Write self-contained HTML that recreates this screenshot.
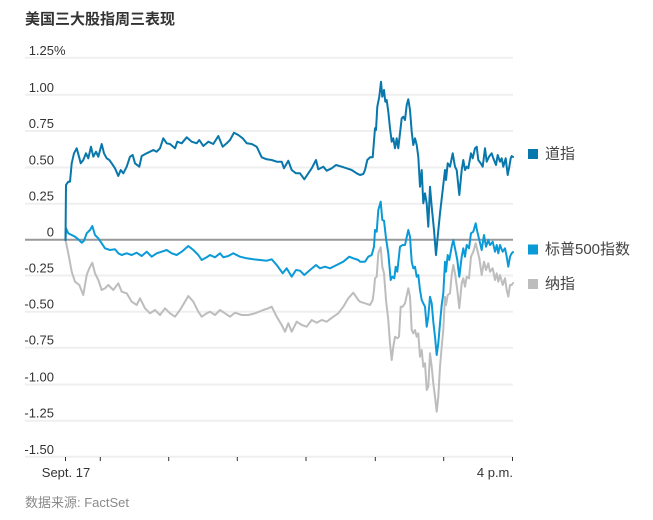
<!DOCTYPE html>
<html>
<head>
<meta charset="utf-8">
<style>
html,body{margin:0;padding:0;background:#fff;}
svg{display:block;}
text{font-family:"Liberation Sans","Noto Sans CJK SC",sans-serif;}
</style>
</head>
<body>
<svg width="653" height="520" viewBox="0 0 653 520" xmlns="http://www.w3.org/2000/svg">
<rect width="653" height="520" fill="#fff"/>
<text x="25" y="24" font-size="15" font-weight="bold" fill="#333">美国三大股指周三表现</text>

<g stroke="#efefef" stroke-width="2">
<line x1="25" x2="513" y1="57.7" y2="57.7"/>
<line x1="25" x2="513" y1="94.7" y2="94.7"/>
<line x1="25" x2="513" y1="131" y2="131"/>
<line x1="25" x2="513" y1="167.5" y2="167.5"/>
<line x1="25" x2="513" y1="203.7" y2="203.7"/>
<line x1="25" x2="513" y1="275.5" y2="275.5"/>
<line x1="25" x2="513" y1="311.7" y2="311.7"/>
<line x1="25" x2="513" y1="347.7" y2="347.7"/>
<line x1="25" x2="513" y1="384.5" y2="384.5"/>
<line x1="25" x2="513" y1="420.7" y2="420.7"/>
<line x1="25" x2="513" y1="456.8" y2="456.8"/>
</g>

<g font-size="13" fill="#333" text-anchor="end">
<text x="54" y="55">1.25</text>
<text x="54" y="92">1.00</text>
<text x="54" y="128">0.75</text>
<text x="54" y="164.5">0.50</text>
<text x="54" y="200.7">0.25</text>
<text x="54" y="236.5">0</text>
<text x="54" y="272.5">-0.25</text>
<text x="54" y="308.7">-0.50</text>
<text x="54" y="344.7">-0.75</text>
<text x="54" y="381.5">-1.00</text>
<text x="54" y="417.7">-1.25</text>
<text x="54" y="453.8">-1.50</text>
</g>
<text x="54" y="55" font-size="13" fill="#333">%</text>

<g stroke="#333" stroke-width="1">
<line x1="65.5" x2="65.5" y1="457" y2="461"/>
<line x1="100.3" x2="100.3" y1="457" y2="461"/>
<line x1="168.7" x2="168.7" y1="457" y2="461"/>
<line x1="237.3" x2="237.3" y1="457" y2="461"/>
<line x1="306" x2="306" y1="457" y2="461"/>
<line x1="375.3" x2="375.3" y1="457" y2="461"/>
<line x1="443.7" x2="443.7" y1="457" y2="461"/>
<line x1="512.5" x2="512.5" y1="457" y2="461"/>
</g>
<text x="66" y="477" font-size="13" fill="#333" text-anchor="middle">Sept. 17</text>
<text x="513" y="477" font-size="13" fill="#333" text-anchor="end">4 p.m.</text>

<text x="25" y="507" font-size="13" fill="#8a8a8a">数据来源: FactSet</text>

<line x1="25" x2="513" y1="239.7" y2="239.7" stroke="#999" stroke-width="2"/>

<g fill="none" stroke-width="2" stroke-linejoin="round" stroke-linecap="round">
<polyline stroke="#bdbdbd" points="65.5,240 68.3,253.3 71.7,271.7 75,281.7 79.3,285 83.3,295 86.7,275 89.3,268.3 92.3,262.7 95,273.3 98.3,280 101.7,290 105,288.3 108.3,285 113.3,290 118.3,283.3 121.7,291.7 126.7,293.3 131.7,301.7 136.7,305 140,298.3 145,308.3 150,313.3 155,310 160,315 165,308.3 170,313.3 175,316.7 180,310 184,303.3 188.3,296 193.3,301.7 198.3,311.7 201.7,316.7 206.7,313.3 210,311.7 215,315 220,310 225,313.3 230,316.7 235,312.7 241.7,315 248.3,315 255,313.3 263.3,310 268.3,308.3 271.7,306.7 276.7,316.7 281.7,325 285,331.7 288.3,323.3 291.7,331.7 296.7,321.7 301.7,325 306.7,326.7 311.7,320 316.7,322.7 321.7,320 326.7,321.7 333.3,316.7 338.3,313.3 343.3,306.7 348.3,298.3 353.3,292.7 358.3,300 360,301.7 365,303.3 370,305 372.7,300 374,290 375,278.3 376.7,276.7 378.3,253.3 380.7,247.3 382.3,266.7 384,273.3 386,300 388.3,320 390,343.3 391.7,360 393.3,346.7 395,336.7 397.3,338.3 399,336.7 400.7,306.7 402.7,306.7 405,303.3 408.3,288.3 410,296.7 411.7,330 413.3,333.3 415,330 416.7,336.7 418.3,333.3 420,356.7 421.7,350 423.3,366.7 425,363.3 426.7,390 428.3,386.7 430,353.3 431.7,366.7 433.3,383.3 435,396.7 436.7,411.7 438.3,396.7 440,366.7 441.7,346.7 443.3,330 445,296.7 446,305 447.7,295 450,293.3 451.7,275 453.3,265 455,273.3 457.3,290 459.3,308.3 461.7,283.3 463.3,278.3 465,286.7 466.7,276.7 469,278.3 471,256.7 473.3,251.7 475.7,243.3 477.3,250 479.3,258.3 481.7,275 484,261.7 486,270 488.3,263.3 490,271.7 492.7,268.3 495,280 496.7,273.3 498.3,281.7 500,275 502.7,285 505,278.3 506.7,290 508.3,296.7 510,285 511.7,285 513,283"/>
<polyline stroke="#0b9ad8" points="65.5,240 66,228.3 68.3,233.3 71.7,235 75,236.7 78.3,239.3 81.7,242.7 84,240.7 86.7,233.3 90,230 92.3,226 95,235 98.3,238.3 101.7,243.3 105,248.3 110,250 115,249.3 118.3,253.3 121.7,255 126.7,253.3 131.7,255 136.7,252.7 141.7,256 146.7,251.7 151.7,256.7 156.7,253.3 161.7,251.7 166.7,250 171.7,253.3 176.7,255 181.7,251.7 188.3,246 193.3,250 198.3,255 201.7,260 206.7,257.3 210,255 215,257.3 220,253.3 223.3,257.3 228.3,256 233.3,253.3 240,256.7 246.7,258.3 253.3,259.3 260,260 266.7,260.7 271.7,259.3 276.7,265 282.7,273.3 286.7,268.3 291.7,276.7 296,270 300,270.7 304.3,275 310,270 316,265 320,268.3 325,266.7 330,268.3 336.7,265 343.3,261.7 349.3,256.7 353.3,258.3 358.3,260 360,261.7 365,261.7 368.3,256.7 371.7,255 374,246.7 375,230 376.7,231.7 378.3,210 380.7,201.7 382.3,220 384,220.7 386,238.3 388.3,253.3 390.7,280 392.3,276.7 394.3,278.3 395.7,266.7 397.3,271.7 400,246.7 402.7,245 405,245 408.3,230 410,236.7 411.7,261.7 413.3,268.3 415,266.7 416.7,276.7 418.3,275 420,290 421.7,300 423.3,303.3 425,306.7 426.7,326.7 428.3,316.7 430,296.7 431.7,303.3 433.3,321.7 435,336.7 436.7,355 438.3,343.3 440,323.3 441.7,305 443.3,293.3 445,261.7 446,271.7 447.7,255 449.3,260 451.7,246.7 453.3,240 455,248.3 457.3,260 459.3,276.7 461.7,256.7 463.3,248.3 465,256.7 466.7,245 469,248.3 471,233.3 473.3,231.7 475.7,223.3 477.3,231.7 479.3,240 481.7,250 484,235 486,246.7 488.3,240 490,245 492.7,241.7 495,251.7 496.7,245 498.3,253.3 500,245 502.7,251.7 505,248.3 506.7,256.7 508.3,266.7 510,256.7 511.7,253.3 513,252"/>
<polyline stroke="#0877ab" points="65.5,240 66,185 68.3,181.7 70,181.7 71.7,163.3 74,153.3 76.7,148.3 79,156.7 80.7,163.3 83.3,160 86,153.3 88.3,158.3 91,146.7 93.3,156.7 96,151.7 98.3,156.7 101.7,144 104,153.3 106.7,158.3 109.3,160 111.7,163.3 115,168.3 118.3,176 120.7,170 123.3,173.3 126.7,166.7 130,156.7 132.7,155 135,163.3 139.3,166.7 141.7,156 146.7,153.3 150,151.7 153.3,150 156.7,151.7 160,148.3 163.3,138.3 166.7,143.3 170,144 175,148.3 177.3,141.7 181.7,143.3 186.7,137.3 191.7,141.7 196.7,143.3 199.3,140 203.3,146 208.3,141.7 213.3,144 218.3,136 222.7,146.7 226.7,143.3 230,140 234,132.7 238.3,135 242.7,138.3 246.7,143.3 251.7,144 256.7,146.7 261.7,157.3 266.7,159.3 271.7,160 276.7,161.7 281.7,161.7 284,168.3 288.3,160.7 291.7,170 296,173.3 300,173.3 304.3,179.3 308.3,173.3 311.7,168.3 316,160 318.3,169.3 323.3,166.7 326.7,170.7 331.7,168.3 336,165 341.7,166.7 346.7,168.3 351.7,170 356.7,173.3 360,175 363.3,174 365,170 367.3,160 370,157.3 372.7,157.3 375,128.3 376,130 377.3,106.7 379.3,96.7 381,81.7 382.3,96.7 384,90 385.3,101.7 386.7,100 388.3,111.7 390,128.3 391.7,141.7 393.3,138.3 395,148.3 396.7,138.3 398.3,148.3 400,133.3 401.7,118.3 403.3,116.7 405,120 406.7,105 408.3,99.3 410,110 411.7,131.7 413.3,145 415,138.3 416.7,145 418.3,156.7 420,186.7 421.7,170 423.3,203.3 425,193.3 426.7,203.3 428.3,226.7 430,186.7 431.7,206.7 434,230 436,255 437.7,236.7 440,213.3 442.7,190 445,170 446,180 447.7,163.3 450,166.7 452.7,153.3 455,166.7 456.7,170 459.3,195 461.7,170 463.3,160 465,170 466.7,166.7 468.3,168.3 471,153.3 472.7,158.3 475,148.3 476.7,146.7 478.3,160 480.7,163.3 482.7,166.7 485,148.3 486.7,161.7 489,156.7 491.7,153.3 493.3,158.3 496,165 497.7,155 500,161.7 501.7,158.3 503.3,166.7 505.7,158.3 507.7,175 509.3,166.7 510.7,158.3 511.7,156 513,157"/>
</g>

<rect x="528" y="149" width="10" height="10" fill="#0877ab"/>
<text x="545" y="158.5" font-size="15" fill="#444">道指</text>
<rect x="528" y="244.5" width="10" height="10" fill="#0b9ad8"/>
<text x="545" y="254" font-size="15" fill="#444">标普500指数</text>
<rect x="528" y="279" width="10" height="10" fill="#bdbdbd"/>
<text x="545" y="288.5" font-size="15" fill="#444">纳指</text>
</svg>
</body>
</html>
